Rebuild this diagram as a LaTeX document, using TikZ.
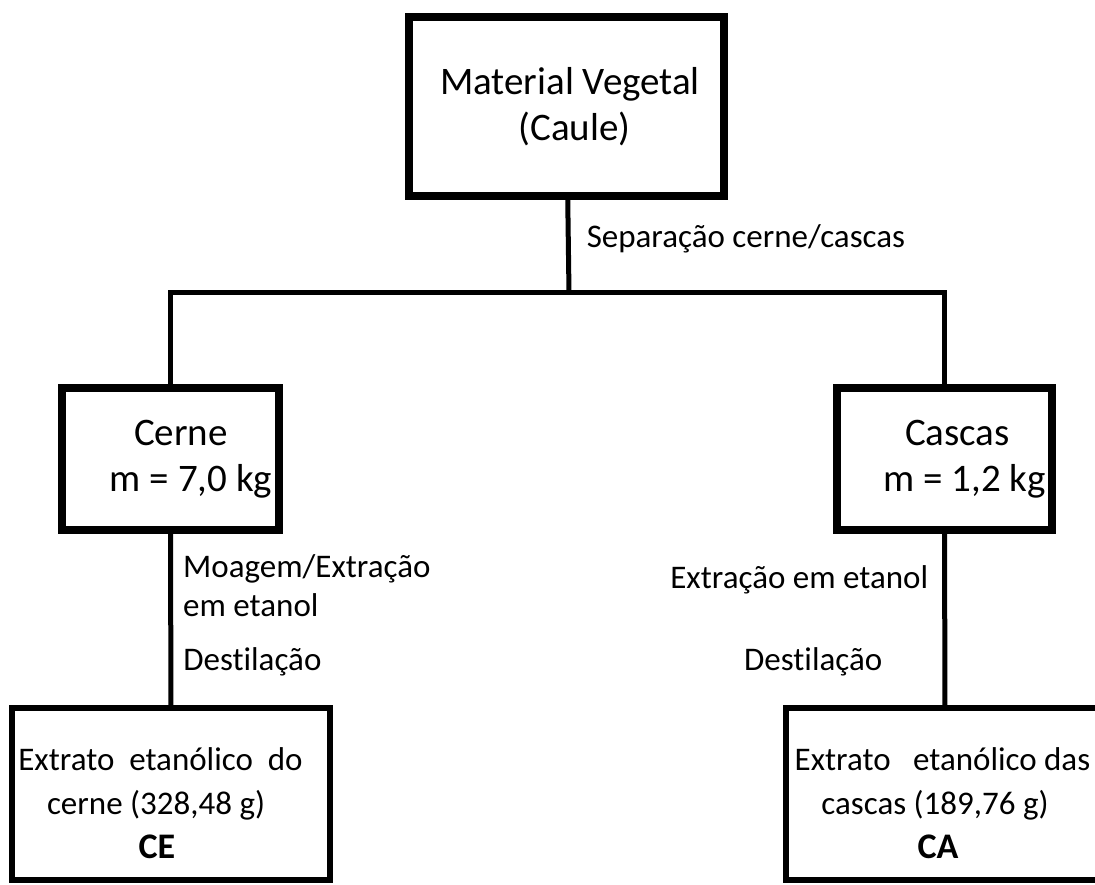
\documentclass[tikz,border=0pt]{standalone}
\usepackage{fontspec}
\setmainfont{Carlito}[Ligatures=NoCommon]
\usetikzlibrary{positioning}

\begin{document}
\begin{tikzpicture}[x=1pt,y=-1pt]
\useasboundingbox (0,0) rectangle (1095,885);

\begin{scope}[every node/.style={draw,line width=8pt,align=center,inner sep=0pt,
                                 font=\fontsize{39}{46}\selectfont}]
    \node[minimum width=315pt,minimum height=179pt] (mat) at (566.5,106.5) {\hspace*{7pt}Material Vegetal\\\hspace*{16pt}(Caule)};
    \node[minimum width=217pt,minimum height=142pt] (cerne) at (170.5,459) {\hspace*{21pt}Cerne\\\hspace*{41pt}m = 7,0 kg};
    \node[minimum width=215pt,minimum height=142pt] (cascas) at (944.5,459) {\hspace*{26pt}Cascas\\\hspace*{40pt}m = 1,2 kg};
\end{scope}

\begin{scope}[every node/.style={draw,line width=6pt,align=center,inner sep=0pt,
                                 minimum width=318pt,minimum height=172pt,
                                 font=\fontsize{33}{44}\selectfont}]
    \node (ce) at (171,794) {\\[-3pt]\hspace*{-21pt}Extrato\ \ etanólico\ \ do\\\hspace*{-30pt}cerne (328,48 g)\\\hspace*{-28pt}{\bfseries\fontsize{36}{40}\selectfont CE}};
    \node (ca) at (945,794) {\\[-3pt]\hspace*{-5pt}Extrato\ \ \ etanólico das\\\hspace*{-20pt}cascas (189,76 g)\\\hspace*{-14pt}{\bfseries\fontsize{36}{40}\selectfont CA}};
\end{scope}

\coordinate (split) at (569,293);

\begin{scope}[line width=5pt,
              every node/.style={font=\fontsize{33}{39}\selectfont,align=left,inner sep=0pt}]
    \draw (mat) -- node[pos=0.42,right=16pt] {Separação cerne/cascas} (split);
    \draw (cerne.north) |- (split) -| (cascas.north);
    \draw (cerne) -- node[pos=0.30,right=10pt] {Moagem/Extração\\em etanol}
                     node[pos=0.75,right=10pt] {Destilação} (ce);
    \draw (cascas) -- node[pos=0.27,left=14pt] {Extração em etanol}
                      node[pos=0.75,left=60pt] {Destilação} (ca);
\end{scope}
\end{tikzpicture}
\end{document}
